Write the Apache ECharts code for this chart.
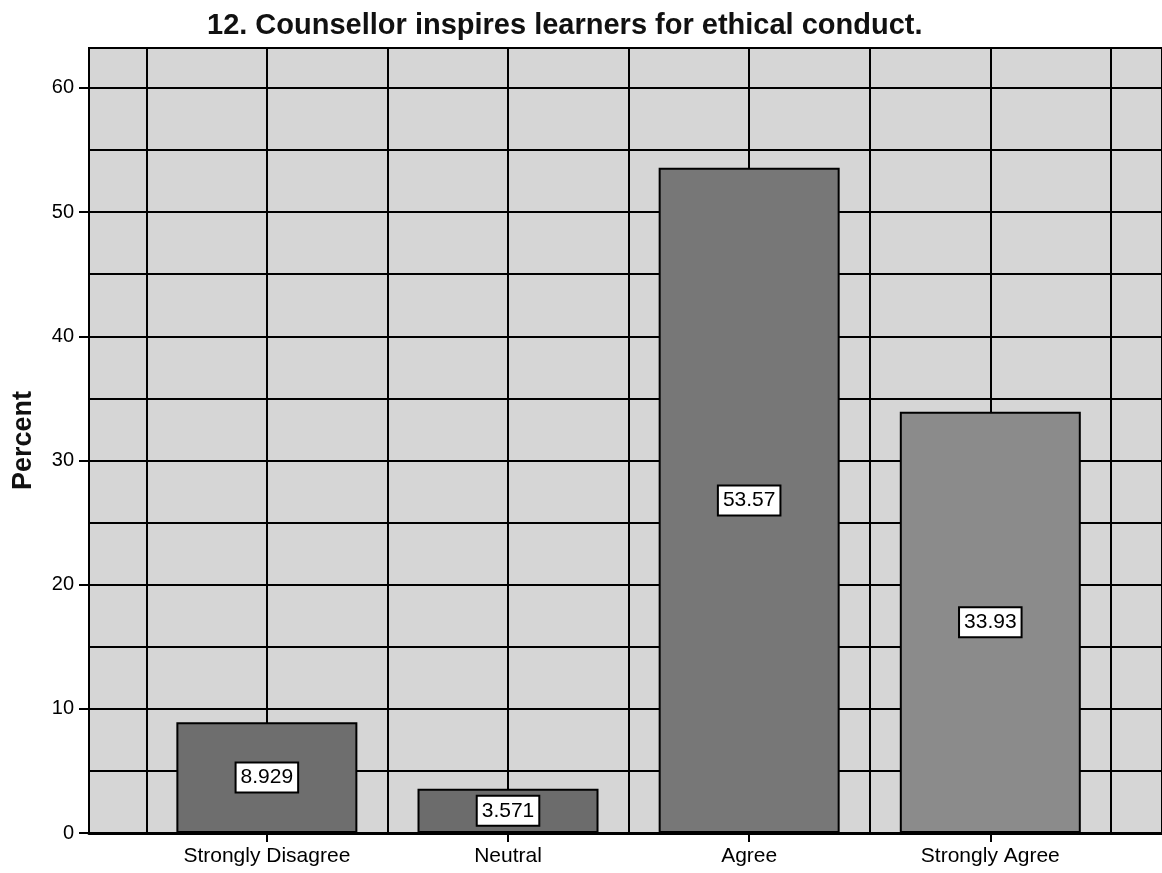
<!DOCTYPE html>
<html>
<head>
<meta charset="utf-8">
<script src="https://cdn.jsdelivr.net/npm/echarts@6/dist/echarts.min.js"></script>
<style>
  html, body { margin: 0; padding: 0; background: #fff; }
  #main { width: 1162px; height: 873px; }
</style>
</head>
<body>
<div id="main"></div>
<script>
// 数据
var categories = ['Strongly Disagree', 'Neutral', 'Agree', 'Strongly Agree'];
var percents = [8.929, 3.571, 53.57, 33.93];
var labels = ['8.929', '3.571', '53.57', '33.93'];
var barColors = ['#6e6e6e', '#6c6c6c', '#777777', '#8b8b8b'];
var yTicks = [0, 10, 20, 30, 40, 50, 60];
var xGrid = [0.5, 1, 1.5, 2, 2.5, 3, 3.5, 4, 4.5];

var font = "'Liberation Sans', Arial, sans-serif";
var chart = echarts.init(document.getElementById('main'));

var barData = [];
for (var i = 0; i < categories.length; i++) {
    barData.push({
        value: [i + 1, percents[i]],
        label: { formatter: labels[i] },
        itemStyle: { color: barColors[i] }
    });
}

var option = {
    animation: false,
    backgroundColor: '#fff',
    title: {
        text: '12. Counsellor inspires learners for ethical conduct.',
        left: 202,
        top: 6,
        textStyle: { fontFamily: font, fontSize: 29, fontWeight: 'bold', color: '#111' }
    },
    grid: {
        left: 89, right: -4, top: 48, bottom: 40,
        show: true,
        backgroundColor: '#d6d6d6',
        borderColor: '#000',
        borderWidth: 2
    },
    xAxis: {
        type: 'value',
        min: 0.2624,
        max: 4.712,
        splitLine: { show: false },
        axisLine: { show: true, lineStyle: { color: '#000', width: 3 } },
        axisTick: { show: true, customValues: [1, 2, 3, 4], length: 9, lineStyle: { color: '#000', width: 2 } },
        axisLabel: {
            customValues: [1, 2, 3, 4],
            formatter: function (v) { return categories[Math.round(v) - 1]; },
            margin: 13,
            fontFamily: font, fontSize: 21, color: '#000'
        }
    },
    yAxis: {
        type: 'value',
        min: 0,
        max: 63.22,
        interval: 10,
        name: 'Percent',
        nameLocation: 'middle',
        nameGap: 52,
        nameTextStyle: { fontFamily: font, fontSize: 27, fontWeight: 'bold', color: '#111' },
        axisLine: { show: true, lineStyle: { color: '#000', width: 2 } },
        axisTick: { show: true, customValues: yTicks, length: 10, lineStyle: { color: '#000', width: 2 } },
        axisLabel: { customValues: yTicks, margin: 15, fontFamily: font, fontSize: 20, color: '#000' },
        splitLine: { show: true, lineStyle: { color: '#000', width: 2 } },
        minorTick: { show: false, splitNumber: 2 },
        minorSplitLine: { show: true, lineStyle: { color: '#000', width: 2 } }
    },
    series: [
        {
            // 竖直网格线，放在柱子后面
            type: 'line',
            data: [],
            z: 1,
            silent: true,
            markLine: {
                z: 1,
                silent: true,
                symbol: 'none',
                label: { show: false },
                lineStyle: { color: '#000', width: 2, type: 'solid' },
                data: xGrid.map(function (x) { return { xAxis: x }; })
            }
        },
        {
            type: 'bar',
            z: 3,
            barWidth: 181,
            data: barData,
            itemStyle: { borderColor: '#000', borderWidth: 2 },
            label: {
                show: true,
                position: 'inside',
                fontFamily: font,
                fontSize: 21,
                color: '#000',
                backgroundColor: '#fff',
                borderColor: '#000',
                borderWidth: 2,
                padding: [4, 4, 3, 4]
            }
        }
    ]
};
chart.setOption(option);
</script>
</body>
</html>
